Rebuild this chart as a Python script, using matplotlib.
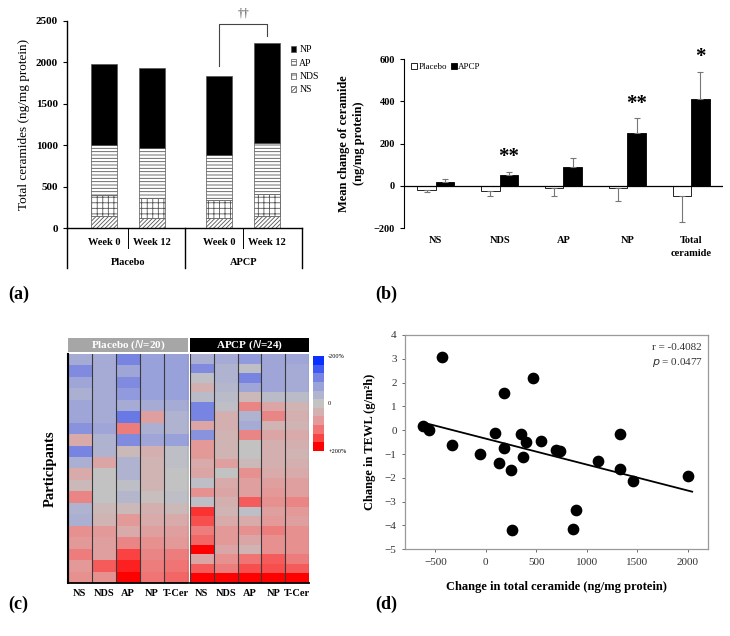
import numpy as np
import matplotlib
matplotlib.use('Agg')
import matplotlib.pyplot as plt
from matplotlib.colors import LinearSegmentedColormap, Normalize
from matplotlib.cm import ScalarMappable

plt.rcParams['font.family'] = ['Liberation Serif', 'DejaVu Serif']
plt.rcParams['hatch.linewidth'] = 0.6

# (a) stacked ceramide classes
bar_labels = ['Week 0', 'Week 12', 'Week 0', 'Week 12']
group_labels = ['Placebo', 'APCP']
ns_vals = [145, 120, 120, 140]
nds_vals = [255, 237, 217, 270]
ap_vals = [600, 606, 543, 618]
np_vals = [980, 972, 959, 1202]

# (b) mean change
change_cats = ['NS', 'NDS', 'AP', 'NP', 'Total\nceramide']
placebo_change = [-18, -25, -8, -12, -49]
placebo_err = [13, 22, 41, 59, 124]
apcp_change = [17, 49, 90, 250, 411]
apcp_err = [13, 17, 41, 70, 129]
apcp_sig = ['', '**', '', '**', '*']

# (c) heatmap, % change per participant (NS, NDS, AP, NP, T-Cer)
heat_cols = ['NS', 'NDS', 'AP', 'NP', 'T-Cer']
placebo_heat = [
    [-60, -60, -120, -80, -80],
    [-110, -60, -70, -80, -80],
    [-70, -60, -110, -80, -80],
    [-50, -60, -90, -80, -80],
    [-70, -60, -60, -60, -60],
    [-70, -60, -130, 70, -40],
    [-100, -70, 110, -50, -40],
    [50, -40, -110, -70, -80],
    [-120, -40, 20, 40, -10],
    [-50, 60, -40, 30, -10],
    [50, 0, -40, 30, 0],
    [20, 0, -10, 30, 0],
    [100, 0, -30, 10, -10],
    [-40, 20, 20, 40, 20],
    [-50, 30, 80, 50, 50],
    [90, 80, 50, 70, 70],
    [80, 70, 100, 90, 80],
    [110, 70, 160, 100, 110],
    [80, 140, 180, 110, 120],
    [90, 90, 200, 120, 130],
]
apcp_heat = [
    [-50, -60, -90, -70, -70],
    [-110, -40, -10, -70, -60],
    [-10, -40, -120, -70, -60],
    [40, -30, -70, -70, -60],
    [-20, -20, 20, -20, -20],
    [-120, -10, 100, 60, 30],
    [-120, 40, -40, 100, 40],
    [60, 40, -60, 30, 30],
    [-100, 30, 100, 60, 50],
    [80, 30, 0, 40, 40],
    [80, 30, 0, 40, 30],
    [50, 70, 20, 40, 40],
    [60, 0, 90, 50, 50],
    [-10, 50, 70, 70, 70],
    [90, 60, 70, 80, 70],
    [-10, 40, 140, 90, 100],
    [170, 30, -10, 70, 80],
    [150, 50, 50, 80, 70],
    [110, 80, 90, 110, 90],
    [130, 80, 60, 90, 90],
    [200, 60, 30, 90, 90],
    [60, 90, 120, 140, 110],
    [140, 110, 150, 150, 140],
    [200, 200, 200, 200, 200],
]

# (d) correlation
cer_change = [-619, -559, -434, -335, -54, 94, 134, 177, 177, 250, 260, 349, 365,
              395, 464, 547, 695, 738, 861, 897, 1115, 1330, 1330, 1458, 2000]
tewl_change = [0.18, 0.01, 3.09, -0.62, -1.0, -0.13, -1.39, -0.76, 1.55, -1.67,
               -4.19, -0.17, -1.11, -0.51, 2.21, -0.44, -0.83, -0.87, -4.16, -3.35,
               -1.28, -0.16, -1.63, -2.13, -1.92]
fit_slope = -0.00109
fit_intercept = -0.353
fit_range = [-616, 2043]

fig = plt.figure(figsize=(7.3, 6.36), dpi=100)

# ---------------- (a) ----------------
ax = fig.add_axes([0.0918, 0.6415, 0.3219, 0.3259])
xpos = np.array([0, 1, 2.4, 3.4])
w = 0.55
bottom = np.zeros(4)
layers = [('NS', ns_vals, 'white', '////////'), ('NDS', nds_vals, 'white', '+++'),
          ('AP', ap_vals, 'white', '-----'), ('NP', np_vals, 'black', None)]
handles = []
for name, vals, fc, hatch in layers:
    b = ax.bar(xpos, vals, w, bottom=bottom, color=fc, edgecolor='#555555',
               hatch=hatch, linewidth=0.5, label=name)
    handles.append(b)
    bottom += np.array(vals)
ax.set_xlim(-0.77, 4.125)
ax.set_ylim(0, 2500)
ax.set_yticks(range(0, 2501, 500))
ax.tick_params(axis='y', labelsize=8, length=3, width=0.8)
for t in ax.get_yticklabels():
    t.set_fontweight('bold')
ax.set_xticks([])
for s in ['top', 'right']:
    ax.spines[s].set_visible(False)
ax.spines['left'].set_linewidth(1)
ax.spines['bottom'].set_linewidth(1)
ax.set_ylabel('Total ceramides (ng/mg protein)', fontsize=9.5, labelpad=4)
tr = ax.get_xaxis_transform()
for xv in [-0.77, 1.69, 4.125]:
    ax.plot([xv, xv], [0, -0.193], transform=tr, color='black', lw=1, clip_on=False)
for xv in [0.5, 2.9]:
    ax.plot([xv, xv], [0, -0.0965], transform=tr, color='black', lw=0.7, clip_on=False)
for xv, lab in zip(xpos, bar_labels):
    ax.text(xv, -0.072, lab, transform=tr, ha='center', va='center',
            fontsize=7.5, fontweight='bold')
for xv, lab in zip([0.5, 2.9], group_labels):
    ax.text(xv, -0.165, lab, transform=tr, ha='center', va='center',
            fontsize=7.5, fontweight='bold')
# significance bracket
y_left = bottom[2] + 110
y_right = bottom[3] + 85
y_top = 2460
ax.plot([xpos[2], xpos[2], xpos[3], xpos[3]], [y_left, y_top, y_top, y_right],
        color='#444444', lw=0.8, clip_on=False)
ax.text((xpos[2] + xpos[3]) / 2, y_top + 60, '††', ha='center', va='bottom',
        fontsize=8.5, color='#444444')
ax.legend(handles[::-1], ['NP', 'AP', 'NDS', 'NS'], loc='upper left',
          bbox_to_anchor=(0.935, 0.9), frameon=False, fontsize=7,
          handlelength=0.6, handleheight=0.6, handletextpad=0.3, labelspacing=0.45,
          borderaxespad=0)

# ---------------- (b) ----------------
bx = fig.add_axes([0.5534, 0.6415, 0.437, 0.2653])
cx = np.arange(len(change_cats))
bw = 0.29
zeros = [0] * len(cx)
bx.bar(cx - bw / 2, placebo_change, bw, color='white', edgecolor='black', lw=0.6,
       label='Placebo')
bx.bar(cx + bw / 2, apcp_change, bw, color='black', edgecolor='black', lw=0.6,
       label='APCP')
bx.errorbar(cx - bw / 2, placebo_change, yerr=[placebo_err, zeros], fmt='none',
            ecolor='#777777', elinewidth=0.8, capsize=2.5, capthick=0.8)
bx.errorbar(cx + bw / 2, apcp_change, yerr=[zeros, apcp_err], fmt='none',
            ecolor='#777777', elinewidth=0.8, capsize=2.5, capthick=0.8)
for xv, v, e, s in zip(cx, apcp_change, apcp_err, apcp_sig):
    if s:
        bx.text(xv + bw / 2, v + e + 22, s, ha='center', va='bottom',
                fontsize=15, fontweight='bold')
bx.axhline(0, color='black', lw=0.9)
bx.set_xlim(-0.5, 4.5)
bx.set_ylim(-200, 600)
bx.set_yticks(range(-200, 601, 200))
bx.tick_params(axis='y', labelsize=7.5, length=3, width=0.8)
for t in bx.get_yticklabels():
    t.set_fontweight('bold')
bx.set_xticks([])
for s in ['top', 'right', 'bottom']:
    bx.spines[s].set_visible(False)
btr = bx.get_xaxis_transform()
for xv, lab in zip(cx, change_cats):
    bx.text(xv, -0.05, lab, transform=btr, ha='center', va='top', fontsize=7.5,
            fontweight='bold', linespacing=1.5)
bx.set_ylabel('Mean change of ceramide\n(ng/mg protein)', fontsize=9,
              fontweight='bold', labelpad=6, linespacing=1.4)
bx.legend(loc='upper left', bbox_to_anchor=(0.01, 1.0), ncol=2, frameon=False,
          fontsize=6.5, handlelength=0.7, handleheight=0.7, handletextpad=0.15,
          columnspacing=0.4, borderaxespad=0)

# ---------------- (c) ----------------
cmap = LinearSegmentedColormap.from_list('bgr', [
    (0.0, '#0a30ff'), (0.2, '#7884e2'), (0.3, '#9aa2da'), (0.38, '#acb1d2'),
    (0.5, '#c3c3c3'), (0.62, '#d8acac'), (0.7, '#e49a9a'), (0.8, '#f07474'),
    (0.9, '#fa4444'), (1.0, '#ff0000')])
norm = Normalize(-200, 200)
heat_axes = []
for pos, data in [([0.0927, 0.0833, 0.1648, 0.36], placebo_heat),
                  ([0.2603, 0.0833, 0.163, 0.36], apcp_heat)]:
    hx = fig.add_axes(pos)
    arr = np.array(data)
    hx.imshow(arr, cmap=cmap, norm=norm, aspect='auto', interpolation='nearest')
    for k in range(arr.shape[1] + 1):
        hx.axvline(k - 0.5, color='#3a3a3a', lw=0.8)
    hx.set_yticks([])
    hx.set_xticks(range(len(heat_cols)))
    hx.set_xticklabels(heat_cols, fontsize=7.5, fontweight='bold')
    hx.tick_params(axis='x', length=0, pad=4)
    for s in ['top', 'right', 'left']:
        hx.spines[s].set_visible(False)
    hx.spines['bottom'].set_linewidth(1.3)
    heat_axes.append(hx)
heat_axes[0].spines['left'].set_visible(True)
heat_axes[0].spines['left'].set_linewidth(1.5)
heat_axes[0].set_ylabel('Participants', fontsize=10.5, fontweight='bold', labelpad=8)

for pos, fc, lab in [([0.0927, 0.4465, 0.1648, 0.022], '#a6a6a6', 'Placebo ($\\mathit{N}$=20)'),
                     ([0.2603, 0.4465, 0.163, 0.022], 'black', 'APCP ($\\mathit{N}$=24)')]:
    hd = fig.add_axes(pos)
    hd.set_facecolor(fc)
    hd.set_xticks([])
    hd.set_yticks([])
    for s in hd.spines.values():
        s.set_visible(False)
    hd.text(0.5, 0.45, lab, ha='center', va='center', color='white', fontsize=8,
            fontweight='bold', transform=hd.transAxes)

cax = fig.add_axes([0.4288, 0.2909, 0.0151, 0.1494])
sm = ScalarMappable(norm=norm, cmap=cmap.resampled(11))
cb = fig.colorbar(sm, cax=cax, ticks=[-200, 0, 200])
cb.ax.invert_yaxis()
cb.ax.set_yticklabels(['-200%', '0', '+200%'])
cb.ax.tick_params(labelsize=4.5, length=0, pad=3)
cb.outline.set_visible(False)

# ---------------- (d) ----------------
dx = fig.add_axes([0.5548, 0.1363, 0.4151, 0.337])
dx.scatter(cer_change, tewl_change, s=55, color='black', zorder=3)
fx = np.array(fit_range)
dx.plot(fx, fit_slope * fx + fit_intercept, color='black', lw=1.3)
dx.set_xlim(-800, 2200)
dx.set_ylim(-5, 4)
dx.set_xticks(range(-500, 2001, 500))
dx.set_yticks(range(-5, 5))
dx.set_yticklabels([str(v).replace('-', '\u2212') for v in range(-5, 5)])
dx.tick_params(labelsize=8, length=2.5, width=0.6, colors='#555555', labelcolor='#333333')
for s in dx.spines.values():
    s.set_color('#999999')
    s.set_linewidth(0.9)
dx.text(0.815, 0.93, 'r = -0.4082', transform=dx.transAxes, fontsize=8, color='#333333')
dx.text(0.815, 0.86, '$\\mathit{p}$ = 0.0477', transform=dx.transAxes, fontsize=8,
        color='#333333')
dx.set_xlabel('Change in total ceramide (ng/mg protein)', fontsize=9, fontweight='bold',
              labelpad=10)
dx.set_ylabel('Change in TEWL (g/m\u00b2h)', fontsize=9, fontweight='bold', labelpad=6)

for x, y, lab in [(0.011, 0.537, '(a)'), (0.514, 0.537, '(b)'),
                  (0.011, 0.049, '(c)'), (0.514, 0.049, '(d)')]:
    fig.text(x, y, lab, fontsize=13, fontweight='bold', va='center')

fig.savefig('out.png', dpi=100)
